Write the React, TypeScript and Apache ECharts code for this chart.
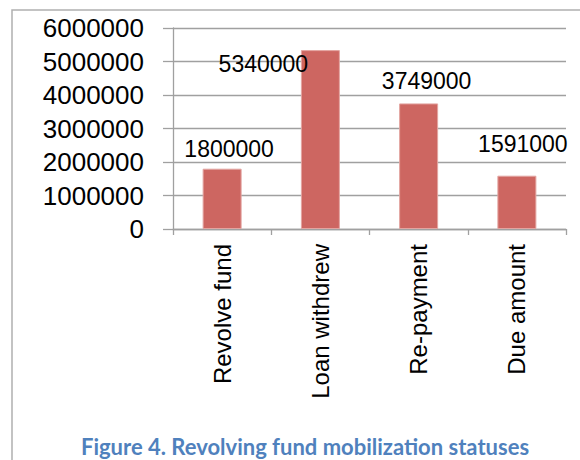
import React, { useEffect, useRef } from "react";
import * as echarts from "echarts";

const categories = ["Revolve fund", "Loan withdrew", "Re-payment", "Due amount"];
const values = [1800000, 5340000, 3749000, 1591000];
const captionText = "Figure 4. Revolving fund mobilization statuses";

// label nudges (style only)
const labelNudges = [
  [7, -20],
  [-57, 14],
  [8, -22],
  [6, -32],
];

export default function App() {
  const ref = useRef<HTMLDivElement>(null);
  useEffect(() => {
    document.body.style.margin = "0";
    const chart = echarts.init(ref.current!, null, { renderer: "svg" });
    chart.setOption({
      animation: false,
      backgroundColor: "#ffffff",
      grid: { left: 173, right: 14, top: 28, bottom: 231, containLabel: false },
      xAxis: {
        type: "category",
        data: categories,
        axisLine: { show: true, lineStyle: { color: "#A0A0A0", width: 1.3 } },
        axisTick: { show: true, length: 6, lineStyle: { color: "#A0A0A0", width: 1.3 } },
        axisLabel: {
          rotate: 90,
          margin: 15,
          color: "#000",
          fontFamily: "Liberation Sans, Arial, sans-serif",
          fontSize: 24,
        },
        splitLine: { show: false },
      },
      yAxis: {
        type: "value",
        min: 0,
        max: 6000000,
        interval: 1000000,
        axisLine: { show: true, lineStyle: { color: "#A0A0A0", width: 1.3 } },
        axisTick: { show: true, length: 10, lineStyle: { color: "#A0A0A0", width: 1.3 } },
        splitLine: { show: true, lineStyle: { color: "#A0A0A0", width: 1.3 } },
        axisLabel: {
          margin: 29,
          color: "#000",
          fontFamily: "Liberation Sans, Arial, sans-serif",
          fontSize: 26,
          padding: [8, 0, 0, 0],
          formatter: (v: number) => String(v),
        },
      },
      series: [
        {
          type: "bar",
          barWidth: 39,
          data: values.map((v, i) => ({
            value: v,
            label: {
              show: true,
              position: ["50%", 0],
              align: "center",
              verticalAlign: "middle",
              offset: labelNudges[i],
              color: "#000",
              fontFamily: "Liberation Sans, Arial, sans-serif",
              fontSize: 23,
              formatter: (p: any) => String(p.value),
            },
          })),
          itemStyle: { color: "#CD6661", borderColor: "#E3A5A1", borderWidth: 1 },
        },
      ],
      graphic: [
        {
          type: "rect",
          shape: { x: 12, y: 10, width: 620, height: 520 },
          style: { fill: "none", stroke: "#B0B0B0", lineWidth: 1.5 },
          silent: true,
        },
        {
          type: "text",
          x: 305,
          y: 457,
          style: {
            text: captionText,
            fill: "#4F81BD",
            font: "bold 22px Lato, 'Open Sans', sans-serif",
            textAlign: "center",
            textVerticalAlign: "bottom",
          },
        },
      ],
    });
    return () => chart.dispose();
  }, []);
  return <div ref={ref} style={{ width: 580, height: 460 }} />;
}
